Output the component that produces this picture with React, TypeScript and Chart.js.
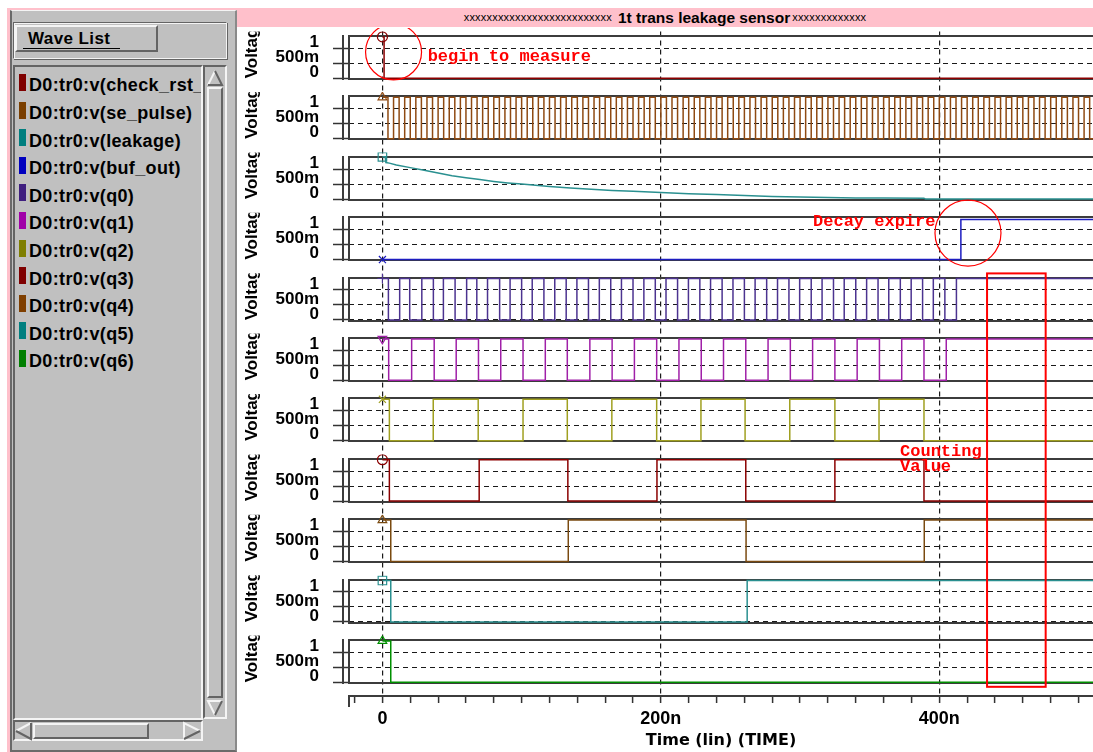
import React, { useEffect, useRef } from 'react';
import { Chart, registerables } from 'chart.js';

Chart.register(...registerables);

// ---------------- data ----------------
const X_MIN = -24;
const X_MAX = 510.4;
const X_TICKS = [-20, 0, 20, 40, 60, 80, 100, 120, 140, 160, 180, 200, 220, 240, 260, 280, 300, 320, 340, 360, 380, 400, 420, 440, 460, 480, 500];
const X_LABEL_VALUES = [0, 200, 400];
const X_LABEL_TEXT = ['0', '200n', '400n'];
const Y_TICKS = [0, 0.5, 1];
const Y_TICK_LABELS = ['0', '500m', '1'];

const SIGNAL_NAMES = ['check_rst_pulse', 'se_pulse', 'leakage', 'buf_out', 'q0', 'q1', 'q2', 'q3', 'q4', 'q5', 'q6'];
const SWATCH_COLORS = ['#7f0000', '#7a3f00', '#007f7f', '#0000bf', '#3f1f7f', '#a000a8', '#7f7f00', '#7f0000', '#7f3f00', '#007f7f', '#007f00'];
const TRACE_COLORS = ['#8b0000', '#8f4a12', '#2a9090', '#1c1cc0', '#4c3390', '#a020a8', '#a0a020', '#8b0000', '#7a4a10', '#2a9090', '#009000'];
const MARKER_STYLES = ['circle', 'triangle', 'rect', 'crossRot', 'cross', 'triangle', 'crossRot', 'circle', 'triangle', 'rect', 'triangle'];
const MARKER_ROTATION = [0, 0, 0, 0, 0, 180, 0, 0, 0, 0, 0];

// logic levels (V)
const HIGH_LEVELS = [1.38, 1.38, 1.41, 1.33, 1.38, 1.38, 1.38, 1.38, 1.38, 1.38, 1.38];
const STARTS_HIGH = [true, true, true, false, true, true, true, true, true, true, true];

// transition times (ns)
const CHECK_RST_EDGES = [1.2];
const SE_PULSE_EDGES = [4, 8, 12, 16, 20, 24, 28, 32, 36, 40, 44, 48, 52, 56, 60, 64, 68, 72, 76, 80, 84, 88, 92, 96, 100, 104, 108, 112, 116, 120, 124, 128, 132, 136, 140, 144, 148, 152, 156, 160, 164, 168, 172, 176, 180, 184, 188, 192, 196, 200, 204, 208, 212, 216, 220, 224, 228, 232, 236, 240, 244, 248, 252, 256, 260, 264, 268, 272, 276, 280, 284, 288, 292, 296, 300, 304, 308, 312, 316, 320, 324, 328, 332, 336, 340, 344, 348, 352, 356, 360, 364, 368, 372, 376, 380, 384, 388, 392, 396, 400, 404, 408, 412, 416, 420, 424, 428, 432, 436, 440, 444, 448, 452, 456, 460, 464, 468, 472, 476, 480, 484, 488, 492, 496, 500, 504, 508];
const BUF_OUT_EDGES = [415.5];
const Q0_EDGES = [4.3, 12.4, 19.6, 28.3, 36.6, 43.8, 52.2, 60.5, 67.8, 75.5, 84.2, 91.7, 100, 107.6, 116, 123.8, 132, 139.7, 148, 155.8, 164, 171.7, 180, 187.8, 196, 203.7, 212, 219.8, 228, 235.7, 244, 251.8, 260, 267.7, 276, 283.8, 292, 299.7, 308, 315.8, 324, 331.7, 340, 347.8, 356, 363.7, 372, 379.8, 388, 395.7, 404, 412.3];
const Q1_EDGES = [4.5, 21, 37.2, 53, 69, 85, 101, 117, 132.8, 149, 165, 181, 197, 213, 229, 245, 261, 277, 293, 309, 325, 341, 357, 373, 389, 405];
const Q2_EDGES = [5, 36.5, 68.8, 101, 132.8, 164.8, 197, 228.8, 260.5, 292.6, 325, 356.7, 389];
const Q3_EDGES = [5, 69.5, 133.2, 197.2, 261, 325, 389];
const Q4_EDGES = [6, 133.5, 261.2, 389.2];
const Q5_EDGES = [6, 262];
const Q6_EDGES = [6];

const LEAKAGE_T = [0, 2, 2.5, 5, 10, 20, 30, 40, 50, 60, 70, 80, 90, 100, 110, 120, 135, 150, 165, 180, 200, 220, 240, 260, 280, 300, 320, 340, 360, 389, 390, 510.4];
const LEAKAGE_V = [1.41, 1.41, 1.22, 1.2, 1.14, 1.05, 0.96, 0.87, 0.78, 0.71, 0.65, 0.59, 0.54, 0.5, 0.46, 0.42, 0.37, 0.33, 0.29, 0.26, 0.22, 0.18, 0.15, 0.12, 0.09, 0.07, 0.05, 0.04, 0.035, 0.03, 0.003, 0.003];

const DIGITAL_EDGES: (number[] | null)[] = [CHECK_RST_EDGES, SE_PULSE_EDGES, null, BUF_OUT_EDGES, Q0_EDGES, Q1_EDGES, Q2_EDGES, Q3_EDGES, Q4_EDGES, Q5_EDGES, Q6_EDGES];

// panel value window
const BOX_TOP = 1.41;
const BOX_BOTTOM = -0.025;
const Y_MAX = 1.557;
const Y_MIN = -0.456;
const N = SIGNAL_NAMES.length;

function buildDigital(startHigh: boolean, high: number, edges: number[]) {
  let level = startHigh ? high : 0;
  const pts = [{ x: 0, y: level }];
  for (const t of edges) {
    level = level === 0 ? high : 0;
    pts.push({ x: t, y: level });
  }
  pts.push({ x: X_MAX, y: level });
  return pts;
}

const ANNOT_FONT = 'bold 17px "Liberation Mono", "DejaVu Sans Mono", monospace';

const panelDecor = {
  id: 'panelDecor',
  beforeDatasetsDraw(chart: any) {
    const { ctx, chartArea } = chart;
    ctx.save();
    ctx.strokeStyle = '#3c3c3c';
    ctx.lineWidth = 2;
    for (let i = 0; i < N; i++) {
      const s = chart.scales['y' + i];
      const top = Math.round(s.getPixelForValue(BOX_TOP));
      const bot = Math.round(s.getPixelForValue(BOX_BOTTOM));
      ctx.beginPath();
      ctx.moveTo(chartArea.right + 2, top);
      ctx.lineTo(chartArea.left, top);
      ctx.lineTo(chartArea.left, bot);
      ctx.lineTo(chartArea.right + 2, bot);
      ctx.stroke();
      ctx.beginPath();
      ctx.moveTo(chartArea.left - 6, top - 1);
      ctx.lineTo(chartArea.left - 6, bot + 1);
      ctx.stroke();
    }
    const xs = chart.scales.x;
    ctx.beginPath();
    ctx.moveTo(chartArea.left, xs.top);
    ctx.lineTo(chartArea.left, xs.top + 11);
    ctx.stroke();
    ctx.restore();
  },
  afterDraw(chart: any) {
    const { ctx } = chart;
    // rotated axis titles, clipped to each panel
    for (let i = 0; i < N; i++) {
      const s = chart.scales['y' + i];
      const bot = s.getPixelForValue(BOX_BOTTOM);
      ctx.save();
      ctx.beginPath();
      ctx.rect(0, s.top, 40, bot - s.top + 1);
      ctx.clip();
      ctx.translate(20, s.getPixelForValue(0));
      ctx.rotate(-Math.PI / 2);
      ctx.font = 'bold 17px "Liberation Sans", Arial, sans-serif';
      ctx.fillStyle = '#000';
      ctx.textAlign = 'left';
      ctx.textBaseline = 'alphabetic';
      ctx.fillText('Voltage', 0, 0);
      ctx.restore();
    }
    // red annotations
    const x = chart.scales.x;
    const py = (k: number, v: number) => chart.scales['y' + k].getPixelForValue(v);
    ctx.save();
    ctx.strokeStyle = '#ff0000';
    ctx.fillStyle = '#ff0000';
    ctx.lineWidth = 1.2;
    ctx.beginPath();
    ctx.arc(x.getPixelForValue(8), py(0, 0.88), 28, 0, Math.PI * 2);
    ctx.stroke();
    ctx.beginPath();
    ctx.arc(x.getPixelForValue(420.6), py(3, 0.88), 33, 0, Math.PI * 2);
    ctx.stroke();
    ctx.lineWidth = 2;
    const rx1 = x.getPixelForValue(434.3);
    const rx2 = x.getPixelForValue(476.4);
    const ry1 = py(4, 1.55);
    const ry2 = py(10, -0.15);
    ctx.strokeRect(rx1, ry1, rx2 - rx1, ry2 - ry1);
    ctx.font = ANNOT_FONT;
    ctx.textAlign = 'left';
    ctx.textBaseline = 'middle';
    ctx.fillText('begin to measure', x.getPixelForValue(32.5), py(0, 0.71));
    ctx.fillText('Decay expire', x.getPixelForValue(309.3), py(3, 1.26));
    ctx.fillText('Counting', x.getPixelForValue(371.8), py(7, 1.65));
    ctx.fillText('Value', x.getPixelForValue(371.8), py(7, 1.13));
    ctx.restore();
  },
};

function makeConfig(): any {
  const datasets = SIGNAL_NAMES.map((name, i) => {
    const edges = DIGITAL_EDGES[i];
    const data = edges
      ? buildDigital(STARTS_HIGH[i], HIGH_LEVELS[i], edges)
      : LEAKAGE_T.map((t, j) => ({ x: t, y: LEAKAGE_V[j] }));
    return {
      label: name,
      data,
      xAxisID: 'x',
      yAxisID: 'y' + i,
      stepped: edges ? 'before' : false,
      borderColor: TRACE_COLORS[i],
      borderWidth: 1.5,
      tension: 0,
      fill: false,
      pointStyle: MARKER_STYLES[i],
      pointRotation: MARKER_ROTATION[i],
      pointRadius: (c: any) => (c.dataIndex === 0 ? (MARKER_STYLES[i] === 'rect' ? 6 : 5) : 0),
      pointHoverRadius: 0,
      pointBorderColor: TRACE_COLORS[i],
      pointBackgroundColor: 'rgba(0,0,0,0)',
      pointBorderWidth: 1.2,
    };
  });

  const scales: any = {
    x: {
      type: 'linear',
      position: 'bottom',
      min: X_MIN,
      max: X_MAX,
      afterBuildTicks: (s: any) => {
        s.ticks = X_TICKS.map((v) => ({ value: v }));
      },
      afterFit: (s: any) => {
        s.height = 56;
        s.paddingLeft = 0;
        s.paddingRight = 0;
      },
      ticks: {
        autoSkip: false,
        maxRotation: 0,
        padding: 5,
        color: '#000',
        font: { family: '"Liberation Sans", Arial, sans-serif', size: 18, weight: 'bold' },
        callback: (v: number) => {
          const k = X_LABEL_VALUES.indexOf(v);
          return k >= 0 ? X_LABEL_TEXT[k] : '';
        },
      },
      grid: {
        color: (c: any) => (c.tick && X_LABEL_VALUES.includes(c.tick.value) ? '#1a1a1a' : 'rgba(0,0,0,0)'),
        lineWidth: 1.2,
        tickLength: 7,
        tickColor: '#333',
        tickWidth: 1.5,
      },
      border: { display: true, color: '#3c3c3c', width: 2, dash: [5, 4] },
      title: {
        display: true,
        text: 'Time (lin) (TIME)',
        color: '#000',
        font: { family: '"DejaVu Sans", sans-serif', size: 16, weight: 'bold' },
        padding: { top: 0, bottom: 2 },
      },
    },
  };
  for (let i = 0; i < N; i++) {
    scales['y' + i] = {
      type: 'linear',
      position: 'left',
      stack: 'panels',
      stackWeight: 1,
      weight: N - i,
      min: Y_MIN,
      max: Y_MAX,
      afterBuildTicks: (s: any) => {
        s.ticks = Y_TICKS.map((v) => ({ value: v }));
      },
      afterFit: (s: any) => {
        s.width = 112;
        s.paddingTop = 0;
        s.paddingBottom = 0;
      },
      ticks: {
        autoSkip: false,
        padding: 14,
        labelOffset: -6,
        color: '#000',
        font: { family: '"Liberation Sans", Arial, sans-serif', size: 17, weight: 'bold' },
        callback: (v: number) => {
          const k = Y_TICKS.indexOf(v);
          return k >= 0 ? Y_TICK_LABELS[k] : '';
        },
      },
      grid: { color: '#1a1a1a', lineWidth: 1, tickLength: 16, tickColor: '#333', tickWidth: 1.5 },
      border: { display: false, dash: [5, 4] },
    };
  }

  return {
    type: 'line',
    data: { datasets },
    options: {
      responsive: false,
      animation: false,
      events: [],
      layout: { autoPadding: false, padding: { top: 3.6, left: 0, right: 0, bottom: 0 } },
      plugins: { legend: { display: false }, tooltip: { enabled: false } },
      scales,
    },
    plugins: [panelDecor],
  };
}

// ---------------- UI helpers ----------------
const abs = (l: number, t: number, w: number, h: number, extra: React.CSSProperties = {}): React.CSSProperties => ({
  position: 'absolute',
  left: l,
  top: t,
  width: w,
  height: h,
  boxSizing: 'border-box',
  ...extra,
});
const LIGHT = '#f4f4f4';
const DARK = '#646464';
const raised = (w = 2): React.CSSProperties => ({
  borderTop: `${w}px solid ${LIGHT}`,
  borderLeft: `${w}px solid ${LIGHT}`,
  borderBottom: `${w}px solid ${DARK}`,
  borderRight: `${w}px solid ${DARK}`,
});
const sunken = (w = 2): React.CSSProperties => ({
  borderTop: `${w}px solid ${DARK}`,
  borderLeft: `${w}px solid ${DARK}`,
  borderBottom: `${w}px solid ${LIGHT}`,
  borderRight: `${w}px solid ${LIGHT}`,
});

export default function App() {
  const canvasRef = useRef<HTMLCanvasElement>(null);
  useEffect(() => {
    const chart = new Chart(canvasRef.current as HTMLCanvasElement, makeConfig());
    return () => chart.destroy();
  }, []);

  const font = '"Liberation Sans", Arial, sans-serif';
  return (
    <div style={{ position: 'absolute', left: 0, top: 0, width: 1093, height: 752, overflow: 'hidden', background: '#fff', fontFamily: font }}>
      {/* pink frame */}
      <div style={abs(7, 8, 1086, 19, { background: '#ffc0cb' })} />
      <div style={abs(7, 8, 3, 744, { background: '#ffc0cb' })} />
      {/* title */}
      <div style={abs(237, 8, 856, 19, { display: 'flex', justifyContent: 'center', alignItems: 'baseline', lineHeight: '19px', whiteSpace: 'nowrap', color: '#000' })}>
        <span style={{ fontSize: 11, letterSpacing: 0.2, position: 'relative', top: -2 }}>xxxxxxxxxxxxxxxxxxxxxxxxxx</span>
        <span style={{ fontSize: 15.5, fontWeight: 'bold', marginLeft: 6 }}>1t trans leakage sensor</span>
        <span style={{ fontSize: 11, letterSpacing: 0.2, marginLeft: 2, position: 'relative', top: -2 }}>xxxxxxxxxxxxx</span>
      </div>

      {/* wave list panel */}
      <div style={abs(10, 10, 227, 742, { background: '#c0c0c0', borderLeft: '2px solid #6a6a6a', borderTop: `1px solid ${LIGHT}`, borderRight: '2px solid #8a8a8a', borderBottom: '2px solid #6a6a6a' })} />
      <div style={abs(13, 22, 214, 37, { borderTop: `1px solid ${DARK}`, borderLeft: `1px solid ${DARK}`, borderBottom: `1px solid ${LIGHT}`, borderRight: `1px solid ${LIGHT}`, boxShadow: `inset 1px 1px 0 ${LIGHT}, 1px 1px 0 ${DARK}` })} />
      <div style={abs(15, 25, 143, 27, { ...raised(2), background: '#c0c0c0' })} />
      <div style={abs(28, 29, 120, 20, { fontSize: 17, fontWeight: 'bold', letterSpacing: 0.4, lineHeight: '20px', color: '#000', whiteSpace: 'nowrap' })}>Wave List</div>
      <div style={abs(23, 48, 97, 1, { background: '#000' })} />

      {/* list box */}
      <div style={abs(13, 65, 190, 655, { ...sunken(2), background: '#c0c0c0', overflow: 'hidden' })}>
        {SIGNAL_NAMES.map((n, i) => (
          <React.Fragment key={n}>
            <div style={abs(4, 7 + 27.6 * i, 7, 17, { background: SWATCH_COLORS[i] })} />
            <div style={abs(14, 8.4 + 27.6 * i, 260, 20, { fontSize: 18, fontWeight: 'bold', letterSpacing: 0.35, lineHeight: '20px', color: '#000', whiteSpace: 'nowrap' })}>
              {`D0:tr0:v(${n})`}
            </div>
          </React.Fragment>
        ))}
      </div>

      {/* vertical scrollbar */}
      <div style={abs(203, 65, 24, 654, { ...sunken(2), background: '#c0c0c0' })} />
      <div style={abs(207, 87, 16, 611, { ...raised(2), background: '#c0c0c0' })} />
      {/* horizontal scrollbar */}
      <div style={abs(13, 720, 190, 21, { ...sunken(2), background: '#c0c0c0' })} />
      <div style={abs(33, 723, 116, 16, { ...raised(2), background: '#c0c0c0' })} />

      <svg style={abs(0, 0, 237, 752, { pointerEvents: 'none' })} width={237} height={752}>
        {/* up arrow */}
        <polyline points="208,85 215,71" stroke={LIGHT} strokeWidth={2} fill="none" />
        <polyline points="215,71 222,85 208,85" stroke={DARK} strokeWidth={2} fill="none" />
        {/* down arrow */}
        <polyline points="222,701 208,701 215,715" stroke={LIGHT} strokeWidth={2} fill="none" />
        <polyline points="215,715 222,701" stroke={DARK} strokeWidth={2} fill="none" />
        {/* left arrow */}
        <polyline points="31,723 16,731" stroke={LIGHT} strokeWidth={2} fill="none" />
        <polyline points="16,731 31,739 31,723" stroke={DARK} strokeWidth={2} fill="none" />
        {/* right arrow */}
        <polyline points="200,731 184,723 184,739" stroke={LIGHT} strokeWidth={2} fill="none" />
        <polyline points="184,739 200,731" stroke={DARK} strokeWidth={2} fill="none" />
      </svg>

      {/* chart */}
      <div style={abs(237, 28, 856, 724)}>
        <canvas ref={canvasRef} width={856} height={724} style={{ display: 'block', width: 856, height: 724 }} />
      </div>
    </div>
  );
}
